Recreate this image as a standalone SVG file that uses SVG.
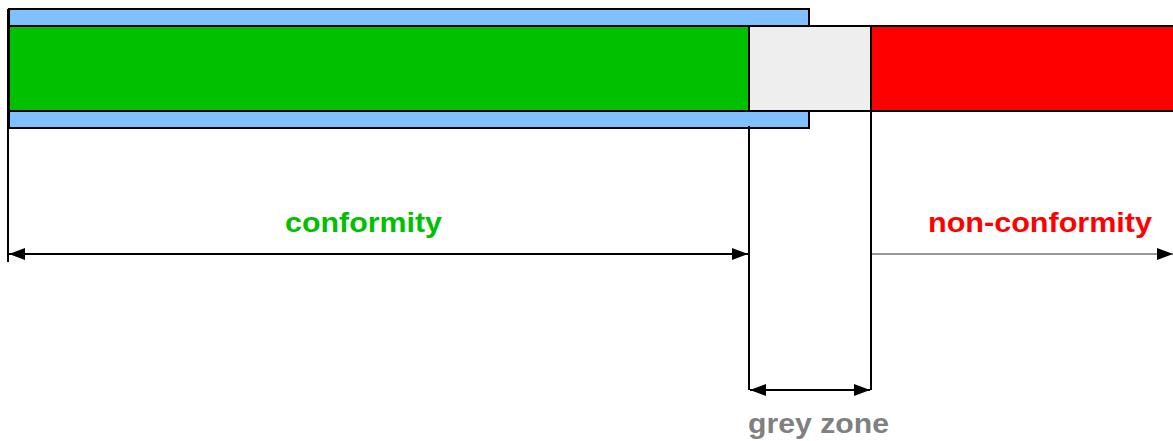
<svg xmlns="http://www.w3.org/2000/svg" width="1173" height="441" viewBox="0 0 1173 441">
<defs>
<style>
.bar{stroke:#000;stroke-width:2}
.dim{stroke:#000;stroke-width:2;fill:none}
.lbl{font-family:"Liberation Sans",Arial,sans-serif;font-weight:bold;font-size:27px;text-anchor:middle}
</style>
<marker id="ah" viewBox="0 0 16 12" refX="16" refY="6" markerWidth="16" markerHeight="12" markerUnits="userSpaceOnUse" orient="auto-start-reverse">
<path d="M0,0 L16,6 L0,12 Z" fill="#000"/>
</marker>
</defs>
<g id="tolerance-band"><rect class="bar" x="9" y="9" width="800" height="119" fill="#80c0ff"/></g>
<g id="conformity-zone"><rect class="bar" x="9" y="26" width="740" height="85" fill="#00c000"/></g>
<g id="grey-zone"><rect class="bar" x="749" y="26" width="122" height="85" fill="#eeeeee"/></g>
<g id="nonconformity-zone"><rect class="bar" x="871" y="26" width="310" height="85" fill="#ff0000"/></g>
<g id="connectors">
<line class="dim" x1="8" y1="9" x2="8" y2="262"/>
<line class="dim" x1="749" y1="126" x2="749" y2="390"/>
<line class="dim" x1="871" y1="111" x2="871" y2="390"/>
<line class="dim" x1="9" y1="254" x2="748" y2="254" marker-start="url(#ah)" marker-end="url(#ah)"/>
<line x1="872" y1="254" x2="1173" y2="254" stroke="#333" stroke-width="1.2" marker-end="url(#ah)"/>
<line class="dim" x1="750" y1="390" x2="870" y2="390" marker-start="url(#ah)" marker-end="url(#ah)"/>
</g>
<g id="labels">
<text class="lbl" x="363.5" y="232" fill="#00c000" textLength="157" lengthAdjust="spacingAndGlyphs">conformity</text>
<text class="lbl" x="1040" y="232" fill="#ff0000" textLength="224" lengthAdjust="spacingAndGlyphs">non-conformity</text>
<text class="lbl" x="818.5" y="433" fill="#808080" textLength="141" lengthAdjust="spacingAndGlyphs">grey zone</text>
</g>
</svg>
